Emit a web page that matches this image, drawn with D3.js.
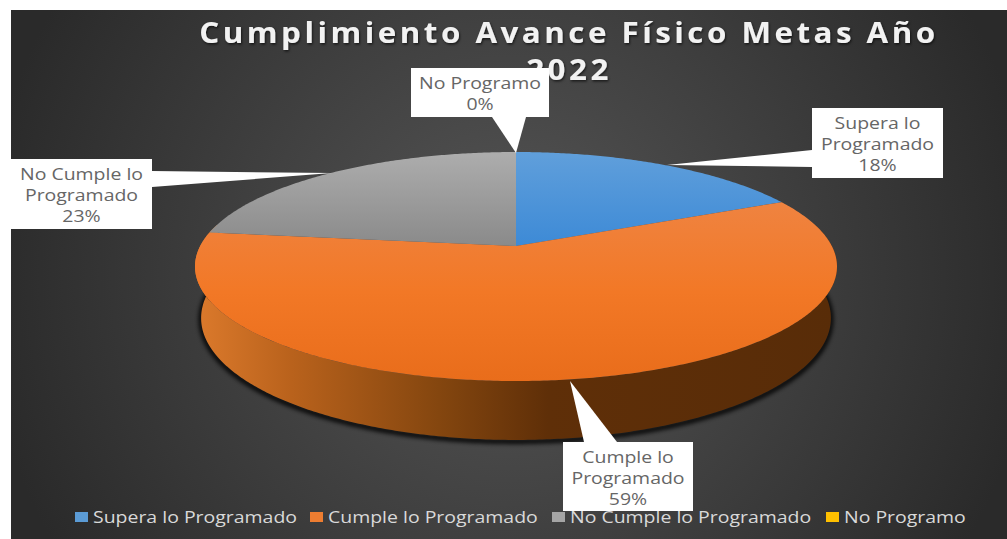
<!DOCTYPE html>
<html>
<head>
<meta charset="utf-8">
<script src="https://cdn.jsdelivr.net/npm/d3@7"></script>
<style>
  html, body { margin: 0; padding: 0; background: #fff; overflow: hidden; }
  text { font-family: "Open Sans", sans-serif; }
</style>
</head>
<body>
<script>
'use strict';

const titleLines = ["Cumplimiento Avance Físico Metas Año", "2022"];
const categories = ["Supera lo Programado", "Cumple lo Programado", "No Cumple lo Programado", "No Programo"];
const values = [18, 59, 23, 0];
const labelLines = [["Supera lo", "Programado"], ["Cumple lo", "Programado"], ["No Cumple lo", "Programado"], ["No Programo"]];

const width = 1007, height = 539;
const colors = ["#5b9bd5", "#ed7d31", "#a5a5a5", "#ffc000"];
const textStretch = 1.18; // the picture is stretched sideways

const svg = d3.select('body').append('svg')
  .attr('width', width)
  .attr('height', height)
  .style('display', 'block');
const defs = svg.append('defs');

// background
let bg = defs.append('radialGradient').attr('id', 'bg')
  .attr('gradientUnits', 'userSpaceOnUse')
  .attr('cx', 510).attr('cy', 275).attr('r', 530);
bg.append('stop').attr('offset', 0).attr('stop-color', '#565656');
bg.append('stop').attr('offset', 1).attr('stop-color', '#2a2a2a');
svg.append('rect').attr('x', 11).attr('y', 10).attr('width', width - 11).attr('height', height - 10)
  .attr('fill', 'url(#bg)');

// top surface gradients per slice
function vGrad(id, stops, y1, y2) {
  let g = defs.append('linearGradient').attr('id', id)
    .attr('gradientUnits', 'userSpaceOnUse')
    .attr('x1', 0).attr('x2', 0).attr('y1', y1).attr('y2', y2);
  stops.forEach((s, i) => g.append('stop').attr('offset', i / (stops.length - 1)).attr('stop-color', s));
}
vGrad('s0', ['#609fdb', '#3d8ad6'], 152, 246);
vGrad('s1', ['#ef8340', '#f27826', '#e96d1b'], 203, 381);
vGrad('s2', ['#adadad', '#8a8a8a'], 152, 246);
vGrad('s3', ['#ffc000', '#ffc000'], 152, 246);

let wall = defs.append('linearGradient').attr('id', 'wall')
  .attr('gradientUnits', 'userSpaceOnUse')
  .attr('x1', 195).attr('x2', 837).attr('y1', 0).attr('y2', 0);
[[0, '#dc7a2c'], [0.15, '#b9621c'], [0.38, '#84460f'], [0.55, '#5f2f08'], [1, '#582c08']].forEach(s =>
  wall.append('stop').attr('offset', s[0]).attr('stop-color', s[1]));

let blur = defs.append('filter').attr('id', 'blur').attr('x', '-10%').attr('y', '-10%').attr('width', '120%').attr('height', '120%');
blur.append('feGaussianBlur').attr('stdDeviation', 2);

let titleShadow = defs.append('filter').attr('id', 'titleShadow').attr('x', '-5%').attr('y', '-30%').attr('width', '110%').attr('height', '160%');
titleShadow.append('feDropShadow').attr('dx', 1).attr('dy', 1.5).attr('stdDeviation', 1.2)
  .attr('flood-color', '#000').attr('flood-opacity', 0.6);

// tilted disc: angle (clockwise from 12 o'clock) to screen through a perspective mapping
const centerX = 516, apexY = 246, spanX = 315.8, spanY = 66.8, persp = -0.179;
function project(angle, r) {
  let u = r * Math.sin(angle), v = -r * Math.cos(angle);
  let d = 1 + persp * v;
  return [centerX + spanX * u / d, (spanY * v + apexY) / d];
}
// lower rim of the wall
function projectLow(angle) {
  let p = project(angle, 1);
  return [centerX + (p[0] - centerX) * 0.981, 318 + (p[1] - 266.5) * 1.065];
}

const line = d3.line();
const pie = d3.pie().sort(null).value(d => d);
const arcs = pie(values);

// wall, front half of the disc belongs to the orange slice
const frontAngles = d3.range(Math.PI / 2 - 0.2, Math.PI * 3 / 2 + 0.2, 0.01);
const wallPts = frontAngles.map(a => project(a, 1)).concat(frontAngles.slice().reverse().map(projectLow));
const lowPts = frontAngles.map(projectLow);

svg.append('path')
  .attr('d', line(lowPts.map(p => [p[0], p[1] + 1.5])))
  .attr('fill', 'none').attr('stroke', '#000').attr('stroke-width', 5).attr('opacity', 0.9)
  .attr('filter', 'url(#blur)');
svg.append('path').attr('d', line(wallPts) + 'Z').attr('fill', 'url(#wall)');

// top slices
svg.append('g').selectAll('path')
  .data(arcs.filter(d => d.value > 0))
  .enter()
  .append('path')
  .attr('d', d => {
    let n = Math.ceil((d.endAngle - d.startAngle) / 0.01);
    let pts = d3.range(n + 1).map(i => project(d.startAngle + (d.endAngle - d.startAngle) * i / n, 1));
    return line([project(0, 0)].concat(pts)) + 'Z';
  })
  .attr('fill', d => 'url(#s' + d.index + ')');

// title
svg.append('g').attr('filter', 'url(#titleShadow)').selectAll('text')
  .data(titleLines)
  .enter()
  .append('text')
  .attr('transform', (d, i) => 'translate(569,' + (43 + i * 37) + ') scale(1.12,1)')
  .attr('text-anchor', 'middle')
  .attr('fill', '#f2f2f2')
  .style('font-size', '28px')
  .style('font-weight', 700)
  .style('letter-spacing', '3.1px')
  .text(d => d);

// legend sits under the Cumple label box
const legendX = [75, 310, 552, 826];
const legend = svg.append('g').selectAll('g')
  .data(categories)
  .enter()
  .append('g')
  .attr('transform', (d, i) => 'translate(' + legendX[i] + ',517)');
legend.append('rect')
  .attr('y', -5).attr('width', 13).attr('height', 10)
  .attr('fill', (d, i) => colors[i]);
legend.append('text')
  .attr('transform', 'translate(18,6) scale(' + textStretch + ',1)')
  .attr('fill', '#d9d9d9')
  .style('font-size', '16.5px')
  .text(d => d);

// data labels: box, pointer tip
const boxes = [
  { x: 812, y: 108, w: 131, h: 70, base: [[812, 150], [812, 167]], tip: [667, 165] },
  { x: 563, y: 442, w: 130, h: 69, base: [[584, 442], [617, 442]], tip: [570, 381] },
  { x: 11, y: 159, w: 141, h: 70, base: [[152, 171], [152, 187]], tip: [332, 173] },
  { x: 411, y: 68, w: 138, h: 49, base: [[492, 117], [526, 117]], tip: [516, 153] }
];
const callouts = svg.append('g').selectAll('g')
  .data(boxes)
  .enter()
  .append('g');
callouts.append('path')
  .attr('d', d => line([d.base[0], d.tip, d.base[1]]) + 'Z')
  .attr('fill', '#fff');
callouts.append('rect')
  .attr('x', d => d.x).attr('y', d => d.y)
  .attr('width', d => d.w).attr('height', d => d.h)
  .attr('fill', '#fff');
callouts.each(function (d, i) {
  let rows = labelLines[i].concat([values[i] + '%']);
  d3.select(this).selectAll('text')
    .data(rows)
    .enter()
    .append('text')
    .attr('transform', (r, j) => 'translate(' + (d.x + d.w / 2) + ',' + (d.y + 20.5 + j * 21) + ') scale(' + textStretch + ',1)')
    .attr('text-anchor', 'middle')
    .attr('fill', '#666')
    .style('font-size', '16.5px')
    .text(r => r);
});
</script>
</body>
</html>
